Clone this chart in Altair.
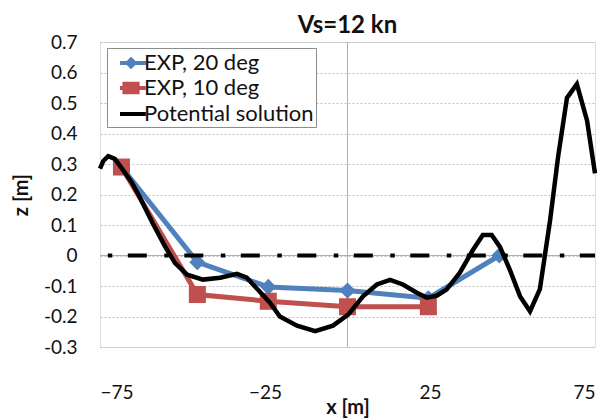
import altair as alt
import pandas as pd

# ---------------- data ----------------
series_names = ["EXP, 20 deg", "EXP, 10 deg", "Potential solution"]
series_colors = ["#4F81BD", "#C0504D", "#000000"]

x_exp20 = [-68.5, -45.5, -24, 0, 24.5, 46]
z_exp20 = [0.29, -0.022, -0.103, -0.115, -0.14, 0.0]

x_exp10 = [-68.5, -45.5, -24, 0, 24.5]
z_exp10 = [0.29, -0.128, -0.15, -0.168, -0.168]

x_pot = [-75, -74, -72.5, -70.5, -68, -65.4, -62.9, -59, -55.3, -52.3, -48.6,
         -43.8, -38.6, -33.5, -30.5, -26.5, -23.5, -20.5, -15.3, -9.8, -4.4,
         0.2, 4.7, 8.9, 12.9, 16.8, 21, 24, 27, 30, 34, 38, 41, 43.7, 46.2,
         49.2, 52.3, 55.3, 58.3, 61.4, 63.8, 66.5, 69.5, 72.6, 75]
z_pot = [0.285, 0.31, 0.326, 0.317, 0.28, 0.24, 0.19, 0.105, 0.03, -0.024, -0.063,
         -0.079, -0.073, -0.06, -0.073, -0.12, -0.155, -0.2, -0.23, -0.248, -0.23,
         -0.194, -0.134, -0.095, -0.08, -0.095, -0.122, -0.138, -0.132, -0.112, -0.057,
         0.018, 0.067, 0.067, 0.028, -0.047, -0.134, -0.183, -0.11, 0.116, 0.322,
         0.517, 0.562, 0.442, 0.269]

x_ref = [-75, 75]
z_ref = [0, 0]

axis_cross_x = [0]
axis_cross_z = [0]

y_ticks = [-0.3, -0.2, -0.1, 0, 0.1, 0.2, 0.3, 0.4, 0.5, 0.6, 0.7]
x_ticks = [-75, -25, 25, 75]

# ---------------- tables ----------------
df20 = pd.DataFrame({"x": x_exp20, "z": z_exp20, "series": series_names[0]})
df10 = pd.DataFrame({"x": x_exp10, "z": z_exp10, "series": series_names[1]})
dfpot = pd.DataFrame({"x": x_pot, "z": z_pot, "series": series_names[2]})
dfexp = pd.concat([df20, df10], ignore_index=True)
dfref = pd.DataFrame({"x": x_ref, "z": z_ref})
dfcross = pd.DataFrame({"x": axis_cross_x, "z": axis_cross_z})

FONT = "Lato"
TXT = "#111111"

x_scale = alt.Scale(domain=[-75, 75], nice=False, zero=False)
y_scale = alt.Scale(domain=[-0.3, 0.7], nice=False, zero=False)

x_axis = alt.Axis(
    values=x_ticks, grid=False, ticks=False, domain=False, labelOverlap=False,
    labelFont=FONT, labelFontSize=19, labelColor=TXT, labelPadding=36,
    title="x [m]", titleFont=FONT, titleFontSize=20, titleFontWeight="bold",
    titleColor=TXT, titlePadding=-5)
y_axis = alt.Axis(
    values=y_ticks, grid=True, gridDash=[2, 2], gridColor="#BFBFBF", gridWidth=1,
    ticks=False, domain=False, labelOverlap=False, labelSeparation=0,
    labelExpr="datum.value == 0 ? '0' : (datum.value < 0 ? '-' : '') + format(abs(datum.value), '.1f')",
    labelFont=FONT, labelFontSize=19, labelColor=TXT, labelPadding=23,
    title="z [m]", titleFont=FONT, titleFontSize=20, titleFontWeight="bold",
    titleColor=TXT, titlePadding=12)

x_enc = alt.X("x:Q", scale=x_scale, axis=x_axis)
y_enc = alt.Y("z:Q", scale=y_scale, axis=y_axis)

color_scale = alt.Scale(domain=series_names, range=series_colors)

legend_paths = [
    "M-1,0H1.35M0,-0.32L0.32,0L0,0.32L-0.32,0Z",
    "M-1,0H1.35M-0.6,-0.38H0.6V0.38H-0.6ZM-0.6,-0.2H0.6M-0.6,0.2H0.6",
    "M-1,0H1.35",
]

legend_def = alt.Legend(
    title=None, orient="none", legendX=7, legendY=6, direction="vertical",
    labelFont=FONT, labelFontSize=22, labelColor=TXT, labelOffset=0, labelLimit=400,
    symbolSize=484, symbolStrokeWidth=4, symbolOpacity=1, symbolOffset=9,
    padding=2, rowPadding=0, strokeColor="#8C8C8C", fillColor="white")

# ---------------- layers ----------------
vrule = alt.Chart(dfcross).mark_rule(color="#B0B0B0", strokeWidth=1).encode(x=x_enc)
hrule = alt.Chart(dfcross).mark_rule(color="#B0B0B0", strokeWidth=1).encode(y=y_enc)

line20 = alt.Chart(df20).mark_line(strokeWidth=5, color=series_colors[0]).encode(x=x_enc, y=y_enc)
pts20 = alt.Chart(df20).mark_point(filled=True, shape="diamond", size=260, opacity=1,
                                   color=series_colors[0]).encode(x=x_enc, y=y_enc)
line10 = alt.Chart(df10).mark_line(strokeWidth=5, color=series_colors[1]).encode(x=x_enc, y=y_enc)
pts10 = alt.Chart(df10).mark_point(filled=True, shape="square", size=290, opacity=1,
                                   color=series_colors[1]).encode(x=x_enc, y=y_enc)

ref_line = alt.Chart(dfref).mark_line(
    color="black", strokeWidth=4, strokeDash=[4.5, 15.5, 19, 17.5], strokeDashOffset=48.7
).encode(x=x_enc, y=y_enc)

pot_line = alt.Chart(dfpot).mark_line(strokeWidth=4.5, color=series_colors[2]).encode(
    x=x_enc, y=y_enc)

legend_src = alt.Chart(dfexp).mark_point(filled=False, opacity=0).encode(
    x=x_enc, y=y_enc,
    color=alt.Color("series:N", scale=color_scale, legend=legend_def),
    shape=alt.Shape("series:N", scale=alt.Scale(domain=series_names, range=legend_paths),
                    legend=legend_def),
)

chart = alt.layer(
    vrule, hrule, line20, pts20, line10, pts10, ref_line, pot_line, legend_src
).properties(
    width=495, height=305,
    title=alt.TitleParams(text="Vs=12 kn", font=FONT, fontSize=24, fontWeight="bold",
                          color=TXT, anchor="middle", frame="group", offset=-5),
    autosize=alt.AutoSizeParams(type="none"),
    padding={"left": 100, "top": 42, "right": 21, "bottom": 73},
).configure_view(stroke=None).configure_axis(labelOverlap=False).configure(background="white")

chart.save("out.html", embed_options={"renderer": "svg", "actions": False})
